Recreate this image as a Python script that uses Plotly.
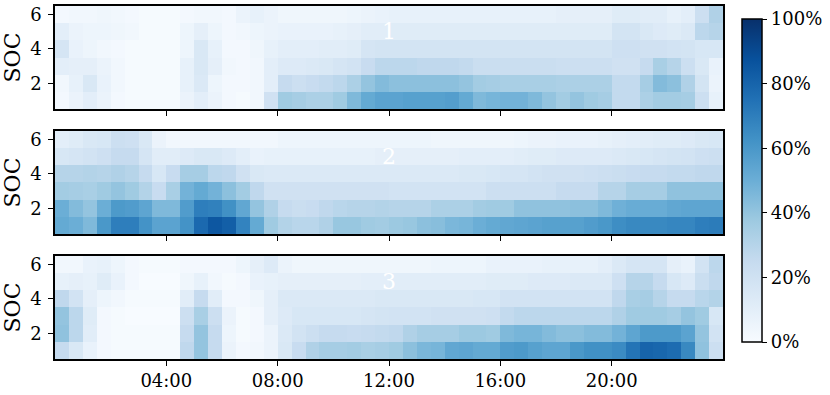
import plotly.graph_objects as go
import plotly.colors as pc

# Share of vehicles (%) per SOC level (rows 1..6) and half-hour slot (48 cols)
soc_levels = [1, 2, 3, 4, 5, 6]
slot_hours = [h / 2 + 0.25 for h in range(48)]
tick_hours = [4, 8, 12, 16, 20]
tick_labels = ["04:00", "08:00", "12:00", "16:00", "20:00"]
colorbar_ticks = [0, 20, 40, 60, 80, 100]
colorbar_labels = ["0%", "20%", "40%", "60%", "80%", "100%"]

cluster_1 = [
    [2, 6, 10, 6, 2, 1, 1, 1, 1, 6, 10, 6, 2, 1, 3, 20, 37, 35, 33, 33, 37, 45, 52, 55,
     55, 56, 56, 56, 57, 52, 45, 47, 48, 48, 45, 40, 36, 40, 37, 35, 26, 26, 33, 36, 36, 35, 22, 8],
    [3, 8, 15, 7, 3, 1, 1, 1, 1, 8, 14, 5, 2, 2, 3, 10, 25, 22, 24, 26, 28, 33, 40, 44,
     42, 42, 42, 42, 42, 40, 36, 35, 34, 34, 34, 34, 33, 33, 33, 33, 26, 26, 35, 44, 42, 32, 18, 6],
    [10, 9, 9, 6, 3, 1, 1, 1, 1, 8, 15, 9, 3, 2, 3, 10, 13, 13, 14, 15, 17, 19, 24, 28,
     28, 28, 27, 27, 27, 26, 23, 23, 23, 23, 23, 23, 22, 22, 22, 22, 20, 20, 25, 34, 30, 22, 15, 7],
    [17, 7, 5, 3, 2, 1, 1, 1, 1, 5, 15, 8, 2, 2, 4, 8, 10, 10, 10, 11, 11, 12, 17, 18,
     18, 18, 18, 18, 18, 18, 18, 18, 18, 18, 18, 18, 18, 18, 18, 18, 21, 21, 20, 20, 19, 18, 16, 16],
    [10, 6, 5, 5, 4, 3, 1, 1, 1, 5, 9, 5, 2, 3, 5, 6, 7, 7, 7, 7, 8, 9, 11, 11,
     12, 12, 12, 12, 12, 12, 12, 12, 12, 12, 12, 12, 12, 12, 12, 12, 18, 18, 15, 13, 12, 14, 28, 30],
    [2, 3, 3, 4, 3, 2, 1, 1, 1, 2, 3, 3, 2, 6, 8, 6, 4, 4, 4, 4, 4, 5, 6, 7,
     8, 8, 8, 8, 8, 8, 8, 8, 8, 8, 8, 8, 9, 9, 9, 9, 12, 12, 11, 11, 8, 10, 22, 32],
]

cluster_2 = [
    [52, 50, 45, 60, 70, 70, 62, 55, 55, 62, 78, 85, 82, 68, 52, 37, 31, 29, 29, 32, 39, 39, 37, 36,
     38, 39, 42, 43, 46, 47, 50, 52, 53, 54, 55, 56, 56, 56, 58, 60, 64, 66, 66, 66, 67, 67, 70, 71],
    [50, 44, 40, 50, 59, 58, 54, 45, 45, 58, 70, 69, 63, 53, 40, 32, 25, 23, 24, 27, 29, 30, 30, 31,
     30, 30, 30, 33, 33, 33, 36, 37, 37, 41, 41, 41, 41, 42, 42, 45, 49, 51, 51, 51, 53, 54, 54, 54],
    [36, 35, 34, 37, 40, 37, 31, 24, 34, 48, 52, 48, 42, 36, 27, 20, 20, 20, 20, 20, 20, 20, 20, 20,
     19, 19, 19, 19, 19, 19, 19, 22, 22, 22, 22, 22, 25, 25, 25, 30, 30, 35, 35, 35, 41, 41, 41, 41],
    [30, 30, 31, 30, 32, 30, 25, 16, 24, 35, 35, 28, 27, 20, 15, 14, 14, 14, 14, 14, 14, 14, 14, 14,
     14, 14, 14, 14, 14, 15, 15, 16, 17, 17, 19, 20, 20, 20, 21, 22, 23, 24, 25, 25, 26, 26, 27, 27],
    [16, 17, 19, 21, 25, 25, 17, 11, 11, 13, 15, 15, 13, 10, 7, 8, 8, 8, 8, 8, 8, 8, 8, 9,
     9, 9, 9, 9, 9, 10, 10, 10, 10, 11, 12, 12, 13, 13, 13, 13, 14, 15, 16, 17, 18, 19, 21, 22],
    [10, 12, 15, 16, 22, 21, 15, 6, 3, 3, 3, 3, 3, 3, 3, 3, 5, 5, 5, 5, 5, 5, 5, 5,
     5, 5, 5, 4, 4, 4, 4, 4, 4, 5, 6, 6, 7, 7, 7, 8, 9, 10, 11, 12, 12, 13, 15, 16],
]

cluster_3 = [
    [25, 15, 7, 2, 1, 1, 1, 1, 1, 27, 40, 25, 6, 2, 3, 6, 15, 24, 32, 35, 35, 36, 34, 35,
     37, 42, 46, 47, 53, 54, 52, 52, 58, 59, 56, 54, 54, 60, 63, 63, 65, 74, 80, 79, 77, 66, 41, 22],
    [41, 28, 11, 2, 1, 1, 1, 1, 1, 25, 40, 25, 5, 1, 2, 6, 14, 19, 22, 25, 25, 24, 25, 26,
     27, 32, 35, 35, 35, 38, 38, 37, 45, 47, 47, 44, 42, 42, 44, 44, 48, 54, 59, 59, 59, 55, 40, 19],
    [40, 28, 12, 2, 1, 0, 0, 0, 0, 22, 34, 22, 6, 1, 2, 9, 13, 16, 16, 16, 16, 16, 17, 18,
     19, 19, 19, 20, 20, 20, 20, 21, 26, 28, 28, 28, 28, 28, 28, 28, 32, 37, 37, 37, 35, 40, 37, 16],
    [27, 19, 9, 5, 3, 1, 1, 1, 1, 11, 25, 11, 2, 2, 4, 9, 14, 14, 14, 14, 14, 14, 14, 15,
     15, 15, 15, 15, 15, 15, 16, 16, 19, 19, 19, 19, 19, 19, 19, 19, 27, 34, 35, 30, 25, 25, 29, 31],
    [8, 9, 8, 12, 7, 2, 0, 0, 0, 4, 8, 3, 1, 2, 7, 8, 9, 9, 9, 9, 9, 9, 10, 10,
     11, 11, 11, 11, 11, 11, 11, 12, 12, 12, 13, 13, 13, 14, 14, 14, 21, 30, 30, 25, 16, 13, 23, 27],
    [3, 3, 7, 8, 5, 2, 1, 1, 1, 2, 2, 2, 2, 5, 9, 13, 6, 4, 4, 4, 4, 4, 4, 4,
     4, 4, 4, 5, 5, 5, 5, 7, 7, 7, 7, 8, 8, 8, 8, 10, 14, 17, 17, 17, 9, 7, 19, 28],
]

clusters = [("1", cluster_1), ("2", cluster_2), ("3", cluster_3)]

font_family = "DejaVu Serif"
x_domain = [55 / 830, 723 / 830]
y_domains = [[0.7241, 0.9848], [0.4076, 0.6684], [0.0911, 0.3519]]

fig = go.Figure()

for i, (label, z) in enumerate(clusters):
    suffix = "" if i == 0 else str(i + 1)
    fig.add_trace(go.Heatmap(x=slot_hours, y=soc_levels, z=z,
                             coloraxis="coloraxis",
                             xaxis="x" + suffix, yaxis="y" + suffix,
                             hovertemplate="%{x}h SOC %{y}: %{z}%<extra></extra>"))

    fig.add_annotation(x=12, y=5, xref="x" + suffix, yref="y" + suffix,
                       text=label, showarrow=False,
                       font=dict(family=font_family, size=22, color="white"))

    fig.update_layout({
        "xaxis" + suffix: dict(domain=x_domain, range=[0, 24], automargin=False,
                               tickmode="array", tickvals=tick_hours, ticktext=tick_labels,
                               showticklabels=(i == 2),
                               ticks="outside", ticklen=5, tickwidth=1.2, tickcolor="black",
                               showline=True, linecolor="black", linewidth=1.5, mirror=True,
                               showgrid=False, zeroline=False,
                               anchor="y" + suffix),
        "yaxis" + suffix: dict(domain=y_domains[i], range=[0.5, 6.5], automargin=False,
                               tickmode="array", tickvals=[2, 4, 6],
                               ticks="outside", ticklen=5, tickwidth=1.2, tickcolor="black",
                               ticklabelstandoff=3,
                               showline=True, linecolor="black", linewidth=1.5, mirror=True,
                               showgrid=False, zeroline=False,
                               title=dict(text="SOC"),
                               anchor="x" + suffix),
    })

fig.update_layout(
    template="none",
    width=830, height=395,
    margin=dict(l=0, r=0, t=0, b=0, autoexpand=False),
    paper_bgcolor="white", plot_bgcolor="white",
    font=dict(family=font_family, size=18, color="black"),
    coloraxis=dict(
        colorscale=pc.sequential.Blues, cmin=0, cmax=100,
        colorbar=dict(x=742 / 830, xanchor="left", y=(395 - 180.5) / 395, yanchor="middle",
                      len=323 / 395, lenmode="fraction", thickness=20,
                      xpad=0, ypad=0,
                      outlinecolor="black", outlinewidth=1.5,
                      tickmode="array", tickvals=colorbar_ticks, ticktext=colorbar_labels,
                      ticks="outside", ticklen=5, tickwidth=1.2, tickcolor="black",
                      tickfont=dict(family=font_family, size=18)),
    ),
)

# page margin would shift the fixed-size figure out of the window
fig.write_html("out.html", config={"displayModeBar": False},
               post_script="document.body.style.margin = '0';")
